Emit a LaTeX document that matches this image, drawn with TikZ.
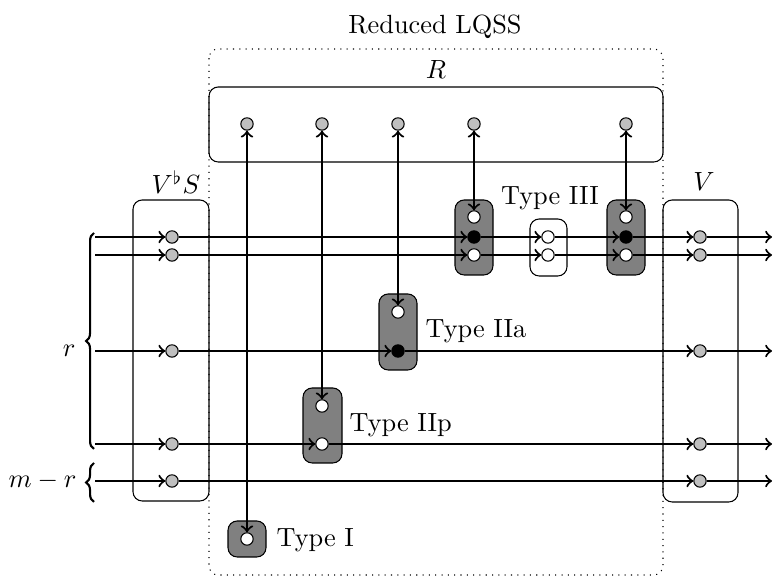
\documentclass[tikz,border=0pt]{standalone}
\usetikzlibrary{decorations.pathreplacing}
\begin{document}
\begin{tikzpicture}[x=0.38pt,y=-0.38pt,
  dot/.style={circle,draw,line width=0.4pt,inner sep=0pt,minimum size=4.7pt},
  gdot/.style={dot,fill=black!25},
  wdot/.style={dot,fill=white},
  bdot/.style={dot,fill=black},
  frame/.style={draw,line width=0.4pt,rounded corners=3.5pt},
  tbox/.style={frame,fill=black!50},
  conn/.style={thick,->},
  biconn/.style={thick,<->},
  brc/.style={thick,decorate,decoration={brace,amplitude=3pt}},
  lbl/.style={inner sep=0pt}]
\useasboundingbox (0,0) rectangle (773,577);
% frames
\draw[frame,dotted] (209,49) rectangle (663,575);
\draw[frame] (209,87) rectangle (663,162);
\draw[frame] (133,200) rectangle (209,501);
\draw[frame] (663,200) rectangle (738,502);
\draw[tbox] (455,200) rectangle (493,275);
\draw[frame,fill=white] (530,219) rectangle (567,276);
\draw[tbox] (607,200) rectangle (645,275);
\draw[tbox] (379,294) rectangle (417,370);
\draw[tbox] (303,388) rectangle (342,463);
\draw[tbox] (228,521) rectangle (266,557);
% labels
\node[lbl] (tRed) at (435,27) {Reduced LQSS};
\node[lbl] (tR) at (436,70) {$R$};
\node[lbl] (tVS) at (176,182) {$V^\flat S$};
\node[lbl] (tV) at (704,182) {$V$};
\node[lbl] (t3) at (550,198) {Type III};
\node[lbl,anchor=west] (t2a) at (425,331) {Type IIa};
\node[lbl,anchor=west] (t2p) at (349,425) {Type IIp};
\node[lbl,anchor=west] (t1) at (276,540) {Type I};
\node[lbl,anchor=east] (lr) at (76,351) {$r$};
\node[lbl,anchor=east] (lmr) at (77,481) {$m-r$};
% R dots
\node[gdot] (r1) at (247,124) {};
\node[gdot] (r2) at (322,124) {};
\node[gdot] (r3) at (398,124) {};
\node[gdot] (r4) at (474,124) {};
\node[gdot] (r5) at (626,124) {};
% left/right gray dots and ends
\foreach \i/\y in {1/237,2/255,3/351,4/444,5/481}{
  \coordinate (in\i) at (95,\y);
  \node[gdot] (a\i) at (172,\y) {};
  \node[gdot] (b\i) at (700,\y) {};
  \coordinate (out\i) at (772,\y);
}
% type III
\node[wdot] (t3a) at (474,217) {};
\node[bdot] (t3b) at (474,237) {};
\node[wdot] (t3c) at (474,255) {};
\node[wdot] (m1) at (548,237) {};
\node[wdot] (m2) at (548,255) {};
\node[wdot] (u1) at (626,217) {};
\node[bdot] (u2) at (626,237) {};
\node[wdot] (u3) at (626,255) {};
% type IIa, IIp, I
\node[wdot] (p1) at (398,312) {};
\node[bdot] (p2) at (398,351) {};
\node[wdot] (q1) at (322,406) {};
\node[wdot] (q2) at (322,444) {};
\node[wdot] (s1) at (247,539) {};
% horizontal connectors
\draw[conn] (in1) -- (a1); \draw[conn] (a1) -- (t3b); \draw[conn] (t3b) -- (m1);
\draw[conn] (m1) -- (u2); \draw[conn] (u2) -- (b1); \draw[conn] (b1) -- (out1);
\draw[conn] (in2) -- (a2); \draw[conn] (a2) -- (t3c); \draw[conn] (t3c) -- (m2);
\draw[conn] (m2) -- (u3); \draw[conn] (u3) -- (b2); \draw[conn] (b2) -- (out2);
\draw[conn] (in3) -- (a3); \draw[conn] (a3) -- (p2); \draw[conn] (p2) -- (b3); \draw[conn] (b3) -- (out3);
\draw[conn] (in4) -- (a4); \draw[conn] (a4) -- (q2); \draw[conn] (q2) -- (b4); \draw[conn] (b4) -- (out4);
\draw[conn] (in5) -- (a5); \draw[conn] (a5) -- (b5); \draw[conn] (b5) -- (out5);
% vertical connectors
\draw[biconn] (r1) -- (s1);
\draw[biconn] (r2) -- (q1);
\draw[biconn] (r3) -- (p1);
\draw[biconn] (r4) -- (t3a);
\draw[biconn] (r5) -- (u1);
% braces
\draw[brc] (94,449) -- (94,233);
\draw[brc] (94,502) -- (94,463);
\end{tikzpicture}
\end{document}
